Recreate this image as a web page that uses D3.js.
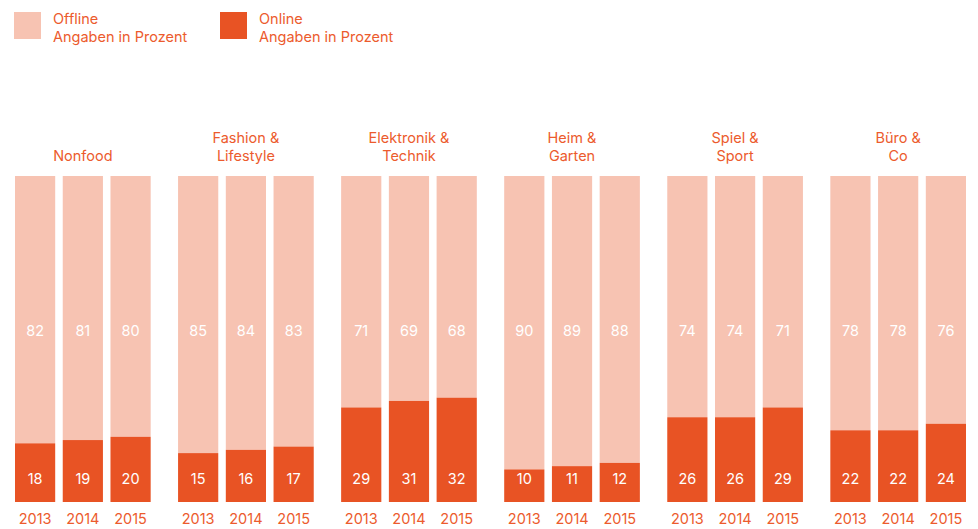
<!DOCTYPE html>
<html>
<head>
<meta charset="utf-8">
<script src="https://cdn.jsdelivr.net/npm/d3@7"></script>
<style>
  body { margin: 0; background: #fff; }
  text { font-family: Inter, "Noto Sans", sans-serif; }
</style>
</head>
<body>
<div id="chart"></div>
<script>
// Daten
var categories = [["Nonfood"], ["Fashion &", "Lifestyle"], ["Elektronik &", "Technik"],
                  ["Heim &", "Garten"], ["Spiel &", "Sport"], ["Büro &", "Co"]];
var years = ["2013", "2014", "2015"];
var offline = [[82, 81, 80], [85, 84, 83], [71, 69, 68], [90, 89, 88], [74, 74, 71], [78, 78, 76]];
var online  = [[18, 19, 20], [15, 16, 17], [29, 31, 32], [10, 11, 12], [26, 26, 29], [22, 22, 24]];
var legendLabels = ["Offline", "Online"];

var width = 978, height = 529;
var colLight = "#f7c3b2", colDark = "#e85324", colText = "#ec5b2d";
var fs = "14.5px";

var svg = d3.select("#chart").append("svg")
    .attr("width", width)
    .attr("height", height);

// Legende
var legendX = [14, 220];
legendLabels.forEach(function(l, i) {
    svg.append("rect")
        .attr("x", legendX[i]).attr("y", 12)
        .attr("width", 27).attr("height", 27)
        .attr("fill", i == 0 ? colLight : colDark);
    svg.append("text")
        .attr("x", legendX[i] + 39).attr("y", 24)
        .attr("font-size", fs).attr("fill", colText)
        .text(l);
    svg.append("text")
        .attr("x", legendX[i] + 39).attr("y", 42)
        .attr("font-size", fs).attr("fill", colText)
        .text("Angaben in Prozent");
});

// Skalen
var x0 = d3.scaleBand()
    .domain(d3.range(categories.length))
    .range([15, 966])
    .paddingInner(0.168)
    .paddingOuter(0);

var x1 = d3.scaleBand()
    .domain(years)
    .range([0, x0.bandwidth()])
    .paddingInner(0.158)
    .paddingOuter(0);

var y = d3.scaleLinear()
    .domain([0, 100])
    .range([502, 176]);

categories.forEach(function(cat, ci) {
    var g = svg.append("g")
        .attr("transform", "translate(" + x0(ci) + ",0)");

    var rows = years.map(function(yr, i) {
        return {year: yr, off: offline[ci][i], on: online[ci][i]};
    });

    // Kategorie-Titel
    var t = g.append("text")
        .attr("text-anchor", "middle")
        .attr("font-size", fs)
        .attr("fill", colText);
    var firstY = cat.length == 1 ? 161 : 143;
    cat.forEach(function(line, li) {
        t.append("tspan")
            .attr("x", x0.bandwidth() / 2)
            .attr("y", firstY + li * 18)
            .text(line);
    });

    // Offline oben
    g.selectAll("rect.off").data(rows).enter().append("rect")
        .attr("class", "off")
        .attr("x", function(d) { return x1(d.year); })
        .attr("y", function(d) { return y(d.on + d.off); })
        .attr("width", x1.bandwidth())
        .attr("height", function(d) { return y(d.on) - y(d.on + d.off); })
        .attr("fill", colLight);

    // Online unten
    g.selectAll("rect.on").data(rows).enter().append("rect")
        .attr("class", "on")
        .attr("x", function(d) { return x1(d.year); })
        .attr("y", function(d) { return y(d.on); })
        .attr("width", x1.bandwidth())
        .attr("height", function(d) { return y(0) - y(d.on); })
        .attr("fill", colDark);

    // Werte
    g.selectAll("text.offv").data(rows).enter().append("text")
        .attr("x", function(d) { return x1(d.year) + x1.bandwidth() / 2; })
        .attr("y", 336)
        .attr("text-anchor", "middle")
        .attr("font-size", fs)
        .attr("fill", "#fff")
        .text(function(d) { return d.off; });

    g.selectAll("text.onv").data(rows).enter().append("text")
        .attr("x", function(d) { return x1(d.year) + x1.bandwidth() / 2; })
        .attr("y", 484)
        .attr("text-anchor", "middle")
        .attr("font-size", fs)
        .attr("fill", "#fff")
        .text(function(d) { return d.on; });

    // Jahre
    g.selectAll("text.yr").data(rows).enter().append("text")
        .attr("x", function(d) { return x1(d.year) + x1.bandwidth() / 2; })
        .attr("y", 524)
        .attr("text-anchor", "middle")
        .attr("font-size", fs)
        .attr("fill", colText)
        .text(function(d) { return d.year; });
});
</script>
</body>
</html>
